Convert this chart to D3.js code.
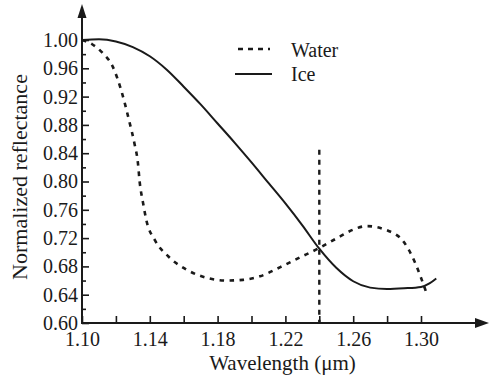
<!DOCTYPE html>
<html>
<head>
<meta charset="utf-8">
<script src="https://cdn.jsdelivr.net/npm/d3@7"></script>
<style>
  body { margin: 0; background: #fff; }
</style>
</head>
<body>
<div id="chart"></div>
<script>
// wavelength (um) / normalized reflectance
const iceWl   = [1.100, 1.110, 1.120, 1.130, 1.140, 1.150, 1.160, 1.170, 1.180, 1.190, 1.200, 1.210, 1.220, 1.230, 1.240, 1.250, 1.260, 1.270, 1.280, 1.290, 1.300, 1.305, 1.309];
const iceVal  = [1.000, 1.001, 0.998, 0.990, 0.977, 0.958, 0.934, 0.909, 0.882, 0.855, 0.827, 0.798, 0.769, 0.738, 0.705, 0.678, 0.659, 0.650, 0.648, 0.649, 0.651, 0.656, 0.663];
const waterWl  = [1.100, 1.106, 1.112, 1.118, 1.123, 1.128, 1.131, 1.133, 1.134, 1.136, 1.138, 1.143, 1.151, 1.162, 1.175, 1.185, 1.195, 1.205, 1.217, 1.228, 1.240, 1.252, 1.260, 1.268, 1.280, 1.290, 1.296, 1.300, 1.303];
const waterVal = [1.000, 0.994, 0.982, 0.963, 0.930, 0.884, 0.853, 0.826, 0.800, 0.770, 0.745, 0.717, 0.694, 0.675, 0.663, 0.660, 0.661, 0.666, 0.679, 0.692, 0.706, 0.722, 0.732, 0.737, 0.731, 0.714, 0.688, 0.664, 0.644];
const markerWl = 1.24;
const markerTop = 0.845;
const yMajor = [0.60, 0.64, 0.68, 0.72, 0.76, 0.80, 0.84, 0.88, 0.92, 0.96, 1.00];
const yMinor = [0.62, 0.66, 0.70, 0.74, 0.78, 0.82, 0.86, 0.90, 0.94, 0.98];
const xMinor = [1.12, 1.16, 1.20, 1.24, 1.28];
const xLabels = [1.10, 1.14, 1.18, 1.22, 1.26, 1.30];
const seriesNames = ["Water", "Ice"];

const W = 489, H = 379;
const serif = "Liberation Serif";
const ink = "#1a1a1a";
const svg = d3.select("#chart").append("svg").attr("width", W).attr("height", H)
    .attr("font-family", serif);

const x = d3.scaleLinear().domain([1.10, 1.30]).range([82, 421]);
const y = d3.scaleLinear().domain([0.60, 1.00]).range([323, 40]);
const fmt = d3.format(".2f");

// axes (ticks point inwards)
svg.append("g").attr("transform", `translate(${x(1.10)},0)`)
    .call(d3.axisLeft(y).tickValues(yMajor).tickSize(-7).tickPadding(4).tickFormat(fmt));
svg.append("g").attr("transform", `translate(${x(1.10)},0)`)
    .call(d3.axisLeft(y).tickValues(yMinor).tickSize(-4).tickFormat(""));
svg.append("g").attr("transform", `translate(0,${y(0.60)})`)
    .call(d3.axisBottom(x).tickValues(xLabels).tickSize(-7).tickPadding(9).tickFormat(fmt));
svg.append("g").attr("transform", `translate(0,${y(0.60)})`)
    .call(d3.axisBottom(x).tickValues(xMinor).tickSize(-7).tickFormat(""));
svg.selectAll(".domain").remove();
svg.selectAll("g").attr("font-family", serif).attr("font-size", 20);
svg.selectAll(".tick text").filter(function () { return this.textContent === ""; }).remove();
svg.selectAll(".tick line").attr("stroke", ink).attr("stroke-width", 1.6);
svg.selectAll(".tick text").attr("fill", ink);

// axis lines with arrows
svg.append("line").attr("x1", x(1.10)).attr("x2", x(1.10)).attr("y1", y(0.60) + 1).attr("y2", 16)
    .attr("stroke", ink).attr("stroke-width", 2);
svg.append("path").attr("d", `M${x(1.10)},4 L${x(1.10) - 4.5},18 L${x(1.10) + 4.5},18 Z`).attr("fill", ink);
svg.append("line").attr("x1", x(1.10) - 1).attr("x2", 478).attr("y1", y(0.60)).attr("y2", y(0.60))
    .attr("stroke", ink).attr("stroke-width", 2);
svg.append("path").attr("d", `M489,${y(0.60)} L475,${y(0.60) - 5} L475,${y(0.60) + 5} Z`).attr("fill", ink);

// curves
const line = d3.line().x(d => x(d[0])).y(d => y(d[1])).curve(d3.curveMonotoneX);
const water = d3.zip(waterWl, waterVal);
const ice = d3.zip(iceWl, iceVal);

svg.append("line")
    .attr("x1", x(markerWl)).attr("x2", x(markerWl))
    .attr("y1", y(markerTop)).attr("y2", y(0.60))
    .attr("stroke", ink).attr("stroke-width", 2.4).attr("stroke-dasharray", "5,5");

svg.append("path").datum(water).attr("d", line)
    .attr("fill", "none").attr("stroke", ink).attr("stroke-width", 2.6).attr("stroke-dasharray", "4.5,5.5");
svg.append("path").datum(ice).attr("d", line)
    .attr("fill", "none").attr("stroke", ink).attr("stroke-width", 2);

// legend
const legend = svg.append("g");
legend.append("line").attr("x1", 233).attr("x2", 270).attr("y1", 49).attr("y2", 49)
    .attr("stroke", ink).attr("stroke-width", 2.4).attr("stroke-dasharray", "5,5").attr("stroke-dashoffset", -5);
legend.append("line").attr("x1", 235).attr("x2", 272).attr("y1", 74).attr("y2", 74)
    .attr("stroke", ink).attr("stroke-width", 2);
legend.selectAll("text").data(seriesNames).enter().append("text")
    .attr("x", 291).attr("y", (d, i) => 56.5 + i * 24.5)
    .attr("font-family", serif).attr("font-size", 20).attr("fill", ink).text(d => d);

// axis titles
svg.append("text").attr("x", 282.5).attr("y", 370).attr("text-anchor", "middle")
    .attr("font-family", serif).attr("font-size", 21).attr("fill", ink).text("Wavelength (μm)");
svg.append("text").attr("transform", "translate(27,177) rotate(-90)").attr("text-anchor", "middle")
    .attr("font-family", serif).attr("font-size", 22).attr("fill", ink).text("Normalized reflectance");
</script>
</body>
</html>
